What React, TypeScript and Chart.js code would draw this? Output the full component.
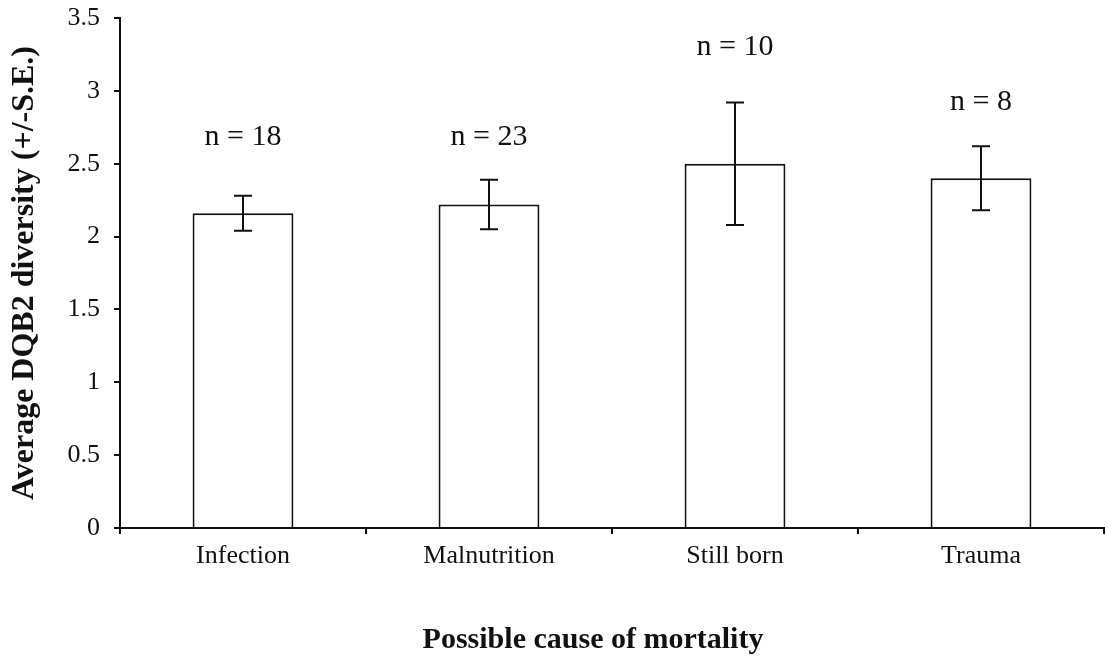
import React, { useEffect, useRef } from "react";
import { Chart, registerables } from "chart.js";

Chart.register(...registerables);

// Possible cause of mortality and mean DQB2 diversity with standard errors
const causes = ["Infection", "Malnutrition", "Still born", "Trauma"];
const meanDiversity = [2.16, 2.22, 2.5, 2.4];
const standardError = [0.12, 0.17, 0.42, 0.22];
const sampleSizes = [18, 23, 10, 8];

// Vertical level (in axis units) where each "n = ..." note sits
const noteLevels = [2.68, 2.68, 3.3, 2.92];

const xTitle = "Possible cause of mortality";
const yTitle = "Average DQB2 diversity (+/-S.E.)";

const serif = "'Liberation Serif', 'Times New Roman', serif";

const annotationPlugin = {
  id: "errorBarsAndNotes",
  afterDatasetsDraw(chart: any) {
    const { ctx } = chart;
    const yScale = chart.scales.y;
    const meta = chart.getDatasetMeta(0);
    ctx.save();
    ctx.strokeStyle = "#111";
    ctx.lineWidth = 2;
    meta.data.forEach((bar: any, i: number) => {
      const x = bar.x;
      const hi = yScale.getPixelForValue(meanDiversity[i] + standardError[i]);
      const lo = yScale.getPixelForValue(meanDiversity[i] - standardError[i]);
      const cap = 9;
      ctx.beginPath();
      ctx.moveTo(x, hi);
      ctx.lineTo(x, lo);
      ctx.moveTo(x - cap, hi);
      ctx.lineTo(x + cap, hi);
      ctx.moveTo(x - cap, lo);
      ctx.lineTo(x + cap, lo);
      ctx.stroke();
    });
    // sample size notes
    ctx.fillStyle = "#111";
    ctx.font = `30px ${serif}`;
    ctx.textAlign = "center";
    ctx.textBaseline = "middle";
    meta.data.forEach((bar: any, i: number) => {
      const y = yScale.getPixelForValue(noteLevels[i]);
      ctx.fillText(`n = ${sampleSizes[i]}`, bar.x, y);
    });
    // x-axis title
    const area = chart.chartArea;
    ctx.font = `bold 30px ${serif}`;
    ctx.fillText(xTitle, (area.left + area.right) / 2 - 19, chart.height - 23);
    ctx.restore();
  },
};

export default function App() {
  const canvasRef = useRef<HTMLCanvasElement | null>(null);

  useEffect(() => {
    if (!canvasRef.current) return;
    const chart = new Chart(canvasRef.current, {
      type: "bar",
      data: {
        labels: causes,
        datasets: [
          {
            data: meanDiversity,
            backgroundColor: "#ffffff",
            borderColor: "#111",
            borderWidth: 2,
            categoryPercentage: 1,
            barPercentage: 0.41,
          },
        ],
      },
      options: {
        responsive: false,
        animation: false,
        layout: { padding: { top: 18, right: 3, left: 0, bottom: 0 } },
        plugins: {
          legend: { display: false },
          tooltip: { enabled: false },
        },
        scales: {
          x: {
            grid: {
              offset: true,
              drawOnChartArea: false,
              drawTicks: true,
              tickLength: 6,
              color: "#111",
              lineWidth: 2,
            },
            border: { display: true, color: "#111", width: 2 },
            ticks: {
              color: "#111",
              padding: 7,
              font: { family: serif, size: 26 },
            },
            afterFit(scale: any) {
              scale.height = 135;
            },
          },
          y: {
            min: 0,
            max: 3.5,
            ticks: {
              stepSize: 0.5,
              color: "#111",
              padding: 14,
              font: { family: serif, size: 26 },
              callback: (value: any) => String(Number(value)),
            },
            grid: {
              drawOnChartArea: false,
              drawTicks: true,
              tickLength: 6,
              color: "#111",
              lineWidth: 2,
            },
            border: { display: true, color: "#111", width: 2 },
            title: {
              display: true,
              text: yTitle,
              color: "#111",
              font: { family: serif, size: 32, weight: "bold" },
              padding: { top: 6, bottom: 0 },
            },
            afterFit(scale: any) {
              scale.width = 120;
              scale.paddingTop = 0;
              scale.paddingBottom = 0;
            },
          },
        },
      },
      plugins: [annotationPlugin],
    });
    return () => chart.destroy();
  }, []);

  return (
    <div style={{ position: "fixed", left: 0, top: 0, width: 1107, height: 663, background: "#fff" }}>
      <canvas ref={canvasRef} width={1107} height={663} style={{ display: "block" }} />
    </div>
  );
}
